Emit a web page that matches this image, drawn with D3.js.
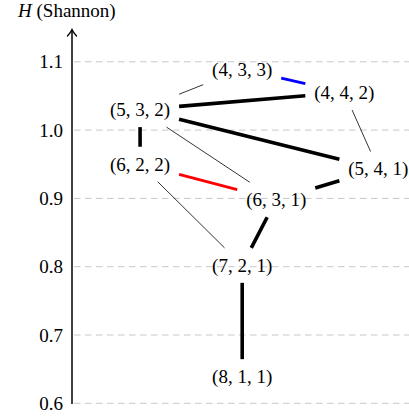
<!DOCTYPE html>
<html>
<head>
<meta charset="utf-8">
<script src="https://cdn.jsdelivr.net/npm/d3@7"></script>
<style>
  body { margin: 0; background: #fff; }
  svg { display: block; }
</style>
</head>
<body>
<div id="chart"></div>
<script>
// partitions of 10 into three parts, placed by Shannon entropy
const nodeLabels = ['(4, 3, 3)', '(4, 4, 2)', '(5, 3, 2)', '(6, 2, 2)', '(5, 4, 1)', '(6, 3, 1)', '(7, 2, 1)', '(8, 1, 1)'];
const nodeCols   = [3, 6, 0, 0, 7, 4, 3, 3];
const nodeH      = [1.089, 1.055, 1.030, 0.950, 0.943, 0.898, 0.802, 0.639];

const edgeFrom = ['(4, 3, 3)', '(5, 3, 2)', '(5, 3, 2)', '(5, 3, 2)', '(4, 4, 2)', '(5, 3, 2)', '(5, 3, 2)', '(6, 2, 2)', '(6, 3, 1)', '(6, 2, 2)', '(6, 3, 1)', '(7, 2, 1)'];
const edgeTo   = ['(4, 4, 2)', '(4, 4, 2)', '(4, 3, 3)', '(5, 4, 1)', '(5, 4, 1)', '(6, 3, 1)', '(6, 2, 2)', '(6, 3, 1)', '(5, 4, 1)', '(7, 2, 1)', '(7, 2, 1)', '(8, 1, 1)'];
const edgeKind = ['blue', 'thick', 'thin', 'thick', 'thin', 'thin', 'thick', 'red', 'thick', 'thin', 'thick', 'thick'];

const yTicks = [0.6, 0.7, 0.8, 0.9, 1.0, 1.1];

const width = 409, height = 419;
const axisX = 72;
const halfW = 39, halfH = 17.5;
const serif = "'Liberation Serif'";

const svg = d3.select('#chart').append('svg')
  .attr('width', width).attr('height', height);

const xScale = d3.scaleLinear().domain([-2, 7.9]).range([axisX, width]);
const yScale = d3.scaleLinear().domain([0.6, 1.1]).range([403.3, 61.8]);

const nodes = nodeLabels.map((l, i) => ({ label: l, x: xScale(nodeCols[i]), y: yScale(nodeH[i]) }));
const byLabel = new Map(nodes.map(d => [d.label, d]));

/* Grid */
svg.append('g').selectAll('line')
  .data(yTicks).join('line')
  .attr('x1', axisX + 2).attr('x2', width)
  .attr('y1', d => yScale(d)).attr('y2', d => yScale(d))
  .attr('stroke', '#c8c8c8').attr('stroke-width', 1)
  .attr('stroke-dasharray', '6.5,4.5');

/* Left axis */
svg.append('g')
  .attr('transform', `translate(${axisX},0)`)
  .call(d3.axisLeft(yScale).tickValues(yTicks).tickSize(0).tickPadding(9).tickFormat(d3.format('.1f')))
  .call(ax => ax.select('.domain').remove())
  .selectAll('text')
    .style('font-family', serif).style('font-size', '19px').style('fill', '#000');

svg.append('line')
  .attr('x1', axisX).attr('x2', axisX)
  .attr('y1', yScale(0.6) + 0.8).attr('y2', 30)
  .attr('stroke', '#000').attr('stroke-width', 1.5);
svg.append('path')
  .attr('d', `M${axisX - 4.5},${36} Q${axisX - 1},${32} ${axisX},${29.5} Q${axisX + 1},${32} ${axisX + 4.5},${36}`)
  .attr('fill', 'none').attr('stroke', '#000').attr('stroke-width', 1.3)
  .attr('stroke-linecap', 'round');

const title = svg.append('text')
  .attr('x', 18).attr('y', 17)
  .style('font-family', serif).style('font-size', '19px').attr('fill', '#000');
title.append('tspan').attr('font-style', 'italic').text('H');
title.append('tspan').text(' (Shannon)');

/* Edges, clipped to node boxes */
function clip(a, b) {
  const dx = b.x - a.x, dy = b.y - a.y;
  const tx = dx === 0 ? Infinity : halfW / Math.abs(dx);
  const ty = dy === 0 ? Infinity : halfH / Math.abs(dy);
  return Math.min(tx, ty);
}
const edges = edgeFrom.map((f, i) => {
  const a = byLabel.get(f), b = byLabel.get(edgeTo[i]);
  const t0 = clip(a, b), t1 = 1 - clip(b, a);
  return {
    kind: edgeKind[i],
    x1: a.x + (b.x - a.x) * t0, y1: a.y + (b.y - a.y) * t0,
    x2: a.x + (b.x - a.x) * t1, y2: a.y + (b.y - a.y) * t1
  };
});
const edgeColor = { thick: '#000', thin: '#000', red: '#ff0000', blue: '#0000ff' };
const edgeWidth = { thick: 3.6, thin: 0.8, red: 2.8, blue: 2.8 };

svg.append('g').selectAll('line')
  .data(edges).join('line')
  .attr('x1', d => d.x1).attr('y1', d => d.y1)
  .attr('x2', d => d.x2).attr('y2', d => d.y2)
  .attr('stroke', d => edgeColor[d.kind])
  .attr('stroke-width', d => edgeWidth[d.kind]);

/* Node labels */
svg.append('g').selectAll('text')
  .data(nodes).join('text')
  .attr('x', d => d.x).attr('y', d => d.y)
  .attr('dy', '0.33em')
  .attr('text-anchor', 'middle')
  .style('font-family', serif).style('font-size', '19px').attr('fill', '#000')
  .text(d => d.label);
</script>
</body>
</html>
